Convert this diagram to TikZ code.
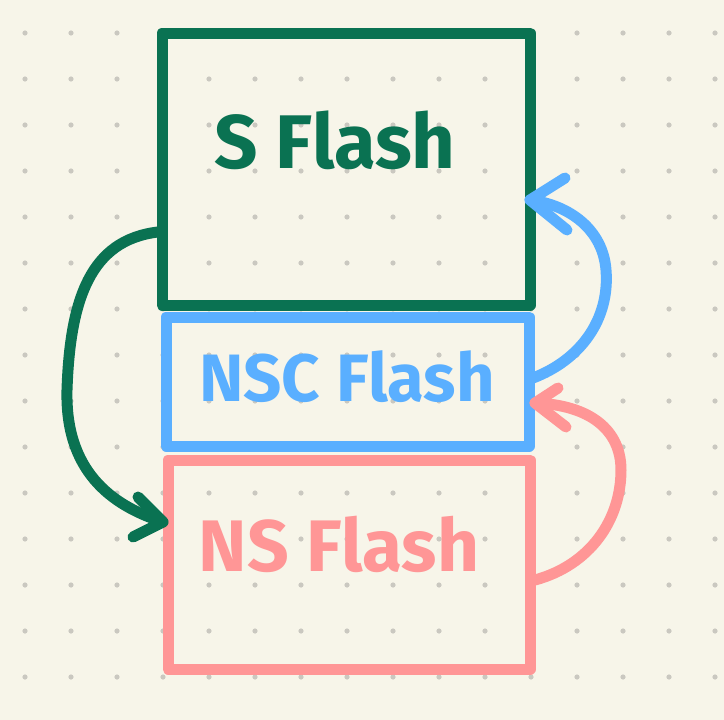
\documentclass[tikz,border=0pt]{standalone}
\usepackage{fontspec}
\setmainfont{Fira Sans}
\usetikzlibrary{calc}
\definecolor{bgc}{RGB}{247,245,233}
\definecolor{dotc}{RGB}{202,200,192}
\definecolor{gc}{RGB}{10,114,82}
\definecolor{bc}{RGB}{90,175,255}
\definecolor{pc}{RGB}{255,150,150}
\tikzset{
  box/.style={draw, line width=11pt, rectangle, line join=round, inner sep=0pt},
  lbl/.style={font=\bfseries},
  conn/.style={line width=11pt, line cap=round, line join=round},
}
\begin{document}
\begin{tikzpicture}[x=1pt,y=-1pt]
\fill[bgc] (0,0) rectangle (724,720);
\useasboundingbox (0,0) rectangle (724,720);
\foreach \i in {0,...,15}{\foreach \j in {0,...,14}{\fill[dotc] (25+46*\i,33+46*\j) circle[radius=2.6pt];}}
% boxes
\node[box, draw=gc, minimum width=368pt, minimum height=272pt] (s) at (346,169) {};
\node[box, draw=bc, minimum width=363pt, minimum height=129pt] (nsc) at (347.5,381.5) {};
\node[box, draw=pc, minimum width=362pt, minimum height=209pt] (ns) at (349,564.5) {};
% labels
\node[lbl, text=gc, font=\fontsize{76}{76}\selectfont\bfseries] (ts) at (335,140) {S Flash};
\node[lbl, text=bc, font=\fontsize{67}{67}\selectfont\bfseries] (tnsc) at (347,377) {NSC Flash};
\node[lbl, text=pc, font=\fontsize{73}{73}\selectfont\bfseries] (tns) at (339,544) {NS Flash};
% named coordinates
\coordinate (g0) at (158,232);
\coordinate (gt) at (163,522);
\coordinate (gb1) at (138,497);
\coordinate (gb2) at (133,537);
\coordinate (b0) at (533,378);
\coordinate (bt) at (530,200);
\coordinate (bb1) at (565,178);
\coordinate (bb2) at (567,230);
\coordinate (p0) at (535,580);
\coordinate (pt) at (535,403);
\coordinate (pb1) at (558,388);
\coordinate (pb2) at (566,427);
% green connector
\draw[conn, gc] (g0) .. controls (90,240) and (70,300) .. (67,390) .. controls (65,470) and (110,505) .. (gt);
\draw[conn, gc] (gb1) -- (gt) -- (gb2);
% blue connector
\draw[conn, bc] (b0) .. controls (580,360) and (610,320) .. (606,270) .. controls (603,230) and (570,205) .. (bt);
\draw[conn, bc] (bb1) -- (bt) -- (bb2);
% pink connector
\draw[conn, pc] (p0) .. controls (590,565) and (621,520) .. (621,470) .. controls (621,430) and (590,405) .. (pt);
\draw[conn, pc] (pb1) -- (pt) -- (pb2);
\end{tikzpicture}
\end{document}
